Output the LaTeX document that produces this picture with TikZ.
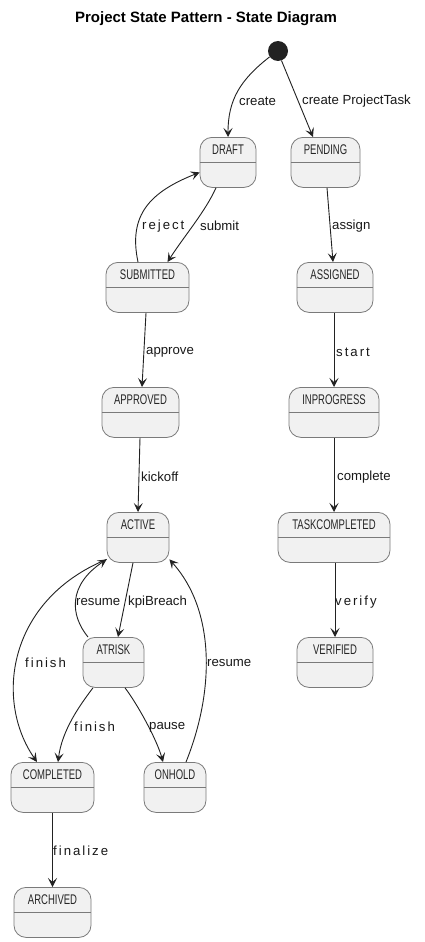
\documentclass[tikz,border=0pt]{standalone}
\usepackage{fontspec}
\setmainfont{Liberation Sans}
\usepackage{graphicx}
\usetikzlibrary{arrows.meta}
\definecolor{statefill}{HTML}{F1F1F1}
\definecolor{stateline}{HTML}{7A7A7A}
\definecolor{initfill}{HTML}{222222}
\definecolor{edgecol}{HTML}{222222}

\tikzset{
  statebox/.style={draw=stateline, fill=statefill, rounded corners=12pt, minimum height=50pt, inner sep=0pt, line width=0.8pt},
  statename/.style={font=\fontsize{14}{14}\selectfont, inner sep=0pt, text=black!85},
  sepline/.style={draw=stateline, line width=0.8pt},
  trans/.style={draw=edgecol, line width=0.9pt, -{Stealth[length=9pt,width=9pt,inset=4pt]}},
  lbl/.style={font=\fontsize{13.2}{13.2}\selectfont, anchor=west, inner sep=0pt, text=black!90},
  slbl/.style={lbl, font=\fontsize{13.2}{13.2}\selectfont\addfontfeature{LetterSpace=15}},
}

\newcommand\mystate[5]{%
  \node[statebox, minimum width=#4pt, anchor=north] (#1) at (#2,#3) {};
  \draw[sepline] (#1.west) -- (#1.east);
  \node[statename] (#1-t) at ([yshift=12.5pt]#1.center) {\scalebox{0.68}[1]{#5}};
}

\begin{document}
\begin{tikzpicture}[x=1pt, y=-1pt]
\useasboundingbox (0,0) rectangle (425,942);
\fill[white] (0,0) rectangle (425,942);

\node[font=\bfseries\fontsize{15}{15}\selectfont, inner sep=0pt] (title) at (206,19) {Project State Pattern - State Diagram};

\node[circle, fill=initfill, minimum size=20pt, inner sep=0pt] (init) at (278,51) {};

\mystate{DRAFT}{228}{137}{56}{DRAFT}
\mystate{PENDING}{325.5}{137}{69}{PENDING}
\mystate{SUBMITTED}{147.5}{262}{83}{SUBMITTED}
\mystate{ASSIGNED}{335}{262}{76}{ASSIGNED}
\mystate{APPROVED}{140.5}{387}{77}{APPROVED}
\mystate{INPROGRESS}{334}{387}{90}{INPROGRESS}
\mystate{ACTIVE}{138}{512}{62}{ACTIVE}
\mystate{TASKCOMPLETED}{334}{512}{112}{TASKCOMPLETED}
\mystate{ATRISK}{113.5}{637}{61}{ATRISK}
\mystate{VERIFIED}{335}{637}{76}{VERIFIED}
\mystate{COMPLETED}{52.5}{762}{83}{COMPLETED}
\mystate{ONHOLD}{175}{762}{62}{ONHOLD}
\mystate{ARCHIVED}{52.5}{887}{77}{ARCHIVED}

% transitions
\draw[trans] (init.215) .. controls (240,80) and (228,100) .. (DRAFT.north);
\draw[trans] (init.-70) -- ([xshift=-12.5pt]PENDING.north);
\draw[trans] ([xshift=-12pt]DRAFT.south) .. controls (205,212) and (185,235) .. ([xshift=20pt]SUBMITTED.north);
\draw[trans] ([xshift=-9.5pt]SUBMITTED.north) .. controls (128,215) and (150,192) .. ([yshift=-10pt]DRAFT.west);
\draw[trans] ([xshift=-1.5pt]SUBMITTED.south) -- ([xshift=1.5pt]APPROVED.north);
\draw[trans] ([xshift=-0.5pt]APPROVED.south) -- (ACTIVE.north);
\draw[trans] ([xshift=-5pt]ACTIVE.south) -- ([xshift=4.5pt]ATRISK.north);
\draw[trans] ([xshift=-25.5pt]ATRISK.north) .. controls (70,615) and (68,585) .. (ACTIVE.-145);
\draw[trans] (ACTIVE.-145) .. controls (8,600) and (-6,700) .. ([xshift=-15.5pt]COMPLETED.north);
\draw[trans] ([xshift=-20.5pt]ATRISK.south) .. controls (80,705) and (62,730) .. ([xshift=5.5pt]COMPLETED.north);
\draw[trans] ([xshift=11.5pt]ATRISK.south) .. controls (138,705) and (157,740) .. ([xshift=-12pt]ONHOLD.north);
\draw[trans] ([xshift=11pt]ONHOLD.north) .. controls (215,690) and (215,610) .. (ACTIVE.-35);
\draw[trans] (COMPLETED.south) -- (ARCHIVED.north);
\draw[trans] ([xshift=1.5pt]PENDING.south) -- ([xshift=-2pt]ASSIGNED.north);
\draw[trans] ([xshift=-1pt]ASSIGNED.south) -- (INPROGRESS.north);
\draw[trans] (INPROGRESS.south) -- (TASKCOMPLETED.north);
\draw[trans] ([xshift=1pt]TASKCOMPLETED.south) -- (VERIFIED.north);

% labels
\node[lbl] (l1) at (239,101) {create};
\node[lbl] (l2) at (302,101) {create ProjectTask};
\node[slbl] (l3) at (142,226) {reject};
\node[lbl] (l4) at (200,226) {submit};
\node[lbl] (l5) at (332,226) {assign};
\node[lbl] (l6) at (146,352) {approve};
\node[slbl] (l7) at (336,352) {start};
\node[lbl] (l8) at (141,477) {kickoff};
\node[lbl] (l9) at (337,477) {complete};
\node[lbl] (l10) at (76,602) {resume};
\node[lbl] (l11) at (128,602) {kpiBreach};
\node[slbl] (l12) at (335,602) {verify};
\node[slbl] (l13) at (25,663) {finish};
\node[lbl] (l14) at (207,663) {resume};
\node[slbl] (l15) at (74,727) {finish};
\node[lbl] (l16) at (149,727) {pause};
\node[slbl] (l17) at (53,851) {finalize};
\end{tikzpicture}
\end{document}
